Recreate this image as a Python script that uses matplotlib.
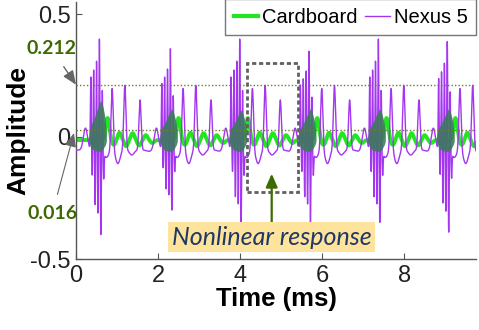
import numpy as np
import matplotlib
matplotlib.use("Agg")
import matplotlib.pyplot as plt
from matplotlib.lines import Line2D
from matplotlib.patches import Rectangle

# ---------------- data ----------------
# start time (ms) of each burst of the Nexus 5 response
cycle_starts = [0.36, 2.09, 3.78, 5.47, 7.16, 8.84]
cycle_max = [0.40, 0.36, 0.40, 0.35, 0.40, 0.39]      # tallest burst spike
cycle_min = [-0.40, -0.30, -0.35, -0.35, -0.35, -0.39]  # deepest burst spike
cycle_env = [0.15, 0.115, 0.11, 0.115, 0.115, 0.115]  # top of cardboard burst

# burst spikes of Nexus 5 (offsets in ms from burst start, relative size)
burst_pos_off = [0.00, 0.07, 0.14, 0.21, 0.28]
burst_pos_rel = [0.65, 0.72, 0.80, 1.00, 0.55]
burst_neg_off = [0.035, 0.105, 0.175, 0.245, 0.315]
burst_neg_rel = [0.30, 0.65, 0.75, 1.00, 0.30]

# after-burst spikes of Nexus 5
nx_base = -0.055
nx_spike_off = [0.52, 0.83, 1.20]
nx_spike_amp = [0.20, 0.21, 0.15]
nx_trough_off = [0.38, 0.66, 1.00, 1.42]
nx_trough_amp = [-0.085, -0.11, -0.075, -0.06]
nx_pre_off = -0.13
nx_pre_amp = 0.035

# cardboard response
cb_base = -0.014
cb_wig_off = [0.41, 0.56, 0.70, 0.86, 1.02, 1.18, 1.34, 1.50]
cb_wig_amp = [0.09, -0.02, 0.03, -0.025, 0.028, -0.022, 0.02, -0.012]
env_off = [-0.05, 0.00, 0.08, 0.16, 0.24, 0.30, 0.35, 0.38]
env_top = [0.00, 0.30, 0.50, 0.75, 1.00, 0.80, 0.50, 0.05]   # relative to cycle_env
env_bot = [-0.02, -0.045, -0.055, -0.06, -0.06, -0.05, -0.035, -0.02]

thr_hi = 0.212
thr_lo = 0.028
xticks = [0, 2, 4, 6, 8]
yticks = [-0.5, 0, 0.5]
ytick_labels = ["-0.5", "0", "0.5"]

# ---------------- build the traces ----------------
t = np.linspace(0, 9.75, 60000)


def bump(center, amp, sigma):
    return amp * np.exp(-0.5 * ((t - center) / sigma) ** 2)


nexus = np.full_like(t, nx_base)
cardboard = np.full_like(t, cb_base)
for s, mx, mn in zip(cycle_starts, cycle_max, cycle_min):
    nexus += bump(s + nx_pre_off, nx_pre_amp - nx_base, 0.05)
    for o, r in zip(burst_pos_off, burst_pos_rel):
        nexus += bump(s + o, (mx - nx_base) * r, 0.01)
    for o, r in zip(burst_neg_off, burst_neg_rel):
        nexus += bump(s + o, (mn - nx_base) * r, 0.01)
    for o, a in zip(nx_spike_off, nx_spike_amp):
        nexus += bump(s + o, a - nx_base, 0.026)
    for o, a in zip(nx_trough_off, nx_trough_amp):
        nexus += bump(s + o, a - nx_base, 0.055)
    for o, a in zip(cb_wig_off, cb_wig_amp):
        cardboard += bump(s + o, a, 0.045)

# ---------------- figure ----------------
fig = plt.figure(figsize=(4.79, 3.30), dpi=100)
ax = fig.add_axes([0.1587, 0.215, 0.835, 0.779])

ax.plot(t, cardboard, color="#22e622", lw=2.8, zorder=2)
ax.plot(t, nexus, color="#a436f0", lw=1.0, zorder=3)
for s, e in zip(cycle_starts, cycle_env):
    xs = [s + o for o in env_off]
    top = [e * v for v in env_top]
    ax.fill_between(xs, env_bot, top, color="#3a7a5a", alpha=0.88, lw=0, zorder=4)

ax.axhline(thr_hi, color="#6b7d2a", lw=1.0, ls=(0, (1, 1.5)), zorder=5)
ax.axhline(thr_lo, color="#6b7d2a", lw=1.0, ls=(0, (1, 1.5)), zorder=5)

ax.set_xlim(0, 9.75)
ax.set_ylim(-0.5, 0.55)
ax.set_xticks(xticks)
ax.set_yticks(yticks)
ax.set_yticklabels(ytick_labels)
for sp in ["top", "right"]:
    ax.spines[sp].set_visible(False)
for sp in ["left", "bottom"]:
    ax.spines[sp].set_color("#555555")
    ax.spines[sp].set_linewidth(1.0)
ax.tick_params(direction="in", length=4, width=0.8, color="#555555",
               labelsize=17, pad=4)
for lab in ax.get_xticklabels() + ax.get_yticklabels():
    lab.set_fontfamily("Liberation Sans")
    lab.set_color("#222222")

ax.set_xlabel("Time (ms)", fontsize=18.5, fontweight="bold",
              fontfamily="Liberation Sans", labelpad=0)
ax.set_ylabel("Amplitude", fontsize=19, fontweight="bold",
              fontfamily="Liberation Sans", labelpad=0)

# dashed box
ax.add_patch(Rectangle((4.16, -0.227), 1.26, 0.527, fill=False,
                       ec="#606060", lw=2.0, ls=(0, (1.5, 1.0)), zorder=6))
# green arrow
ax.annotate("", xy=(4.77, -0.14), xytext=(4.77, -0.36),
            arrowprops=dict(arrowstyle="-|>,head_width=0.35,head_length=0.8",
                            color="#3d6b00", lw=1.6), zorder=7)
# label box
ax.text(4.77, -0.41, "Nonlinear response", fontsize=18, fontstyle="italic",
        fontfamily="Lato", color="#1f3864", ha="center", va="center",
        bbox=dict(boxstyle="square,pad=0.15", fc="#fde39c", ec="none"), zorder=8)

# threshold annotations
ax.annotate("0.212", xy=(0.0, thr_hi), xytext=(-0.60, 0.36),
            fontsize=14, fontweight="bold", fontfamily="Lato", color="#3f6a00",
            ha="center", va="center", annotation_clip=False,
            arrowprops=dict(arrowstyle="-|>,head_width=0.25,head_length=0.6",
                            color="#666666", lw=1.0, shrinkA=6, shrinkB=0))
ax.annotate("0.016", xy=(-0.05, 0.015), xytext=(-0.58, -0.315),
            fontsize=14, fontweight="bold", fontfamily="Lato", color="#3f6a00",
            ha="center", va="center", annotation_clip=False,
            arrowprops=dict(arrowstyle="-|>,head_width=0.25,head_length=0.6",
                            color="#666666", lw=0.8, shrinkA=6, shrinkB=0))

handles = [Line2D([], [], color="#22e622", lw=3),
           Line2D([], [], color="#a436f0", lw=1)]
leg = ax.legend(handles, ["Cardboard", "Nexus 5"], loc="upper right",
                ncol=2, frameon=True, fancybox=False, edgecolor="#555555",
                prop={"family": "Liberation Sans", "size": 14.5},
                handlelength=1.2, handletextpad=0.2, columnspacing=0.4,
                borderpad=0.42, borderaxespad=0.0, bbox_to_anchor=(1.0, 1.01))
leg.get_frame().set_linewidth(1.0)

fig.savefig("out.png", dpi=100)
